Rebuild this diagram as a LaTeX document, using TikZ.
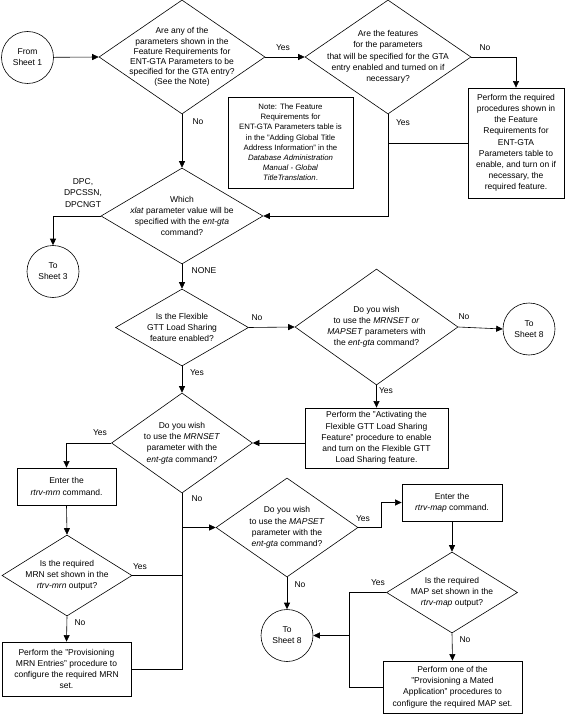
\documentclass[tikz,border=0pt]{standalone}
\usepackage{fontspec}
\setmainfont{Liberation Sans}
\usetikzlibrary{shapes.geometric,arrows.meta}

\begin{document}
\begin{tikzpicture}[x=1pt, y=-1pt, font=\fontsize{8.5}{11.2}\selectfont,
		line width=0.6pt,
		arr/.style={-{Triangle[length=6.5pt,width=6pt]}},
		decision/.style={draw, diamond, inner sep=0pt},
		qtext/.style={align=center, inner sep=0pt},
		procbox/.style={draw, line width=0.8pt, align=center, inner sep=0pt},
		sheet/.style={draw, circle, minimum size=52pt, inner sep=0pt, align=center}]
	\useasboundingbox (0,0) rectangle (565,714);

	% Top row
	\node[sheet] (from) at (27.5,57.5) {From\\Sheet 1};
	\node[decision, minimum width=166pt, minimum height=114pt] (q1) at (182,57) {};
	\node[qtext, font=\fontsize{8.5}{10.1}\selectfont] (q1txt) at (q1) {Are any of the\\parameters shown in the\\Feature Requirements for\\ENT-GTA Parameters to be\\specified for the GTA entry?\\(See the Note)};
	\node[decision, minimum width=166pt, minimum height=114pt] (q2) at (388,57) {};
	\node[qtext] (q2txt) at (q2) {Are the features\\for the parameters\\that will be specified for the GTA\\entry enabled and turned on if\\necessary?};
	\node[procbox, minimum width=96pt, minimum height=110pt] (feat) at (516,143) {Perform the required\\procedures shown in\\the Feature\\Requirements for\\ENT-GTA\\Parameters table to\\enable, and turn on if\\necessary, the\\required feature.};
	\node[procbox, minimum width=125pt, minimum height=91pt, font=\fontsize{7.8}{10.2}\selectfont] (note) at (290.5,142.5) {Note: The Feature\\Requirements for\\ENT-GTA Parameters table is\\in the "Adding Global Title\\Address Information" in the\\\textit{Database Administration}\\\textit{Manual - Global}\\\textit{TitleTranslation}.};

	% xlat question
	\node[decision, minimum width=162pt, minimum height=96pt] (q3) at (182,216) {};
	\node[qtext] (q3txt) at (q3) {Which\\\textit{xlat} parameter value will be\\specified with the \textit{ent-gta}\\command?};
	\node[sheet] (sh3) at (53,271.5) {To\\Sheet 3};

	% Flexible GTT Load Sharing
	\node[decision, minimum width=133pt, minimum height=77pt] (q4) at (182,327.5) {};
	\node[qtext] (q4txt) at (q4) {Is the Flexible\\GTT Load Sharing\\feature enabled?};
	\node[decision, minimum width=163pt, minimum height=116pt] (q5) at (376.5,327) {};
	\node[qtext] (q5txt) at (q5) {Do you wish\\to use the \textit{MRNSET or}\\\textit{MAPSET} parameters with\\the \textit{ent-gta} command?};
	\node[sheet] (sh8a) at (529,329) {To\\Sheet 8};
	\node[procbox, minimum width=143pt, minimum height=60pt] (flex) at (376.5,438) {Perform the "Activating the\\Flexible GTT Load Sharing\\Feature" procedure to enable\\and turn on the Flexible GTT\\Load Sharing feature.};

	% MRNSET branch
	\node[decision, minimum width=141pt, minimum height=100pt] (q6) at (182,443) {};
	\node[qtext] (q6txt) at (q6) {Do you wish\\to use the \textit{MRNSET}\\parameter with the\\\textit{ent-gta} command?};
	\node[procbox, minimum width=99pt, minimum height=37pt] (mrn) at (66.5,486.5) {Enter the\\\textit{rtrv-mrn} command.};
	\node[decision, minimum width=130pt, minimum height=81pt] (q7) at (67,575.5) {};
	\node[qtext] (q7txt) at (q7) {Is the required\\MRN set shown in the\\\textit{rtrv-mrn} output?};
	\node[procbox, minimum width=129pt, minimum height=54pt] (mrnprov) at (66.5,669) {Perform the "Provisioning\\MRN Entries" procedure to\\configure the required MRN\\set.};

	% MAPSET branch
	\node[decision, minimum width=142pt, minimum height=99pt] (q8) at (287,527.5) {};
	\node[qtext] (q8txt) at (q8) {Do you wish\\to use the \textit{MAPSET}\\parameter with the\\\textit{ent-gta} command?};
	\node[procbox, minimum width=100pt, minimum height=37pt] (map) at (452,502.5) {Enter the\\\textit{rtrv-map} command.};
	\node[decision, minimum width=131pt, minimum height=81pt] (q9) at (452,592.5) {};
	\node[qtext] (q9txt) at (q9) {Is the required\\MAP set shown in the\\\textit{rtrv-map} output?};
	\node[sheet] (sh8b) at (287,635.5) {To\\Sheet 8};
	\node[procbox, minimum width=139pt, minimum height=52pt] (mapprov) at (452.5,687) {Perform one of the\\"Provisioning a Mated\\Application" procedures to\\configure the required MAP set.};

	% Connectors
	\draw[arr] (from) -- (q1.west);
	\draw[arr] (q1.east) -- (q2.west);
	\draw[arr] (q2.east) -| (feat.north);
	\draw[arr] (q1.south) -- (q3.north);
	\draw[arr] (q2.south) |- (q3.east);
	\draw (feat.west) -- (feat.west -| q2.south);
	\draw[arr] (q3.west) -| (sh3.north);
	\draw[arr] (q3.south) -- (q4.north);
	\draw[arr] (q4.east) -- (q5.west);
	\draw[arr] (q5.east) -- (sh8a.west);
	\draw[arr] (q5.south) -- (flex.north);
	\draw[arr] (q6.east -| flex.west) -- (q6.east);
	\draw[arr] (q4.south) -- (q6.north);
	\draw[arr] (q6.west) -| (mrn.north);
	\draw[arr] (mrn.south) -- (q7.north);
	\draw[arr] (q7.south) -- (mrnprov.north);
	\draw (q6.south) -- (q6.south |- mrnprov.east) -- (mrnprov.east);
	\draw (q7.east) -- (q7.east -| q6.south);
	\draw[arr] (q6.south |- q8.west) -- (q8.west);
	\draw[arr] (q8.east) -- ++(23,0) |- (map.west);
	\draw[arr] (map.south) -- (q9.north);
	\draw[arr] (q9.south) -- (mapprov.north);
	\draw[arr] (q8.south) -- (sh8b.north);
	\coordinate (mapjoin) at (349,0);
	\draw (q9.west) -- (q9.west -| mapjoin) -- (mapprov.west -| mapjoin) -- (mapprov.west);
	\draw[arr] (sh8b.east -| mapjoin) -- (sh8b.east);

	% Labels
	\node at (283,48) {Yes};
	\node at (485,48) {No};
	\node at (198,122) {No};
	\node at (403,123) {Yes};
	\node[align=center] at (83,193) {DPC,\\DPCSSN,\\DPCNGT};
	\node[anchor=west] at (188,271) {NONE};
	\node at (257,318) {No};
	\node at (464,317) {No};
	\node at (386,391) {Yes};
	\node at (197,373) {Yes};
	\node at (100,433) {Yes};
	\node at (197,499) {No};
	\node at (140,567) {Yes};
	\node at (80,623) {No};
	\node at (363,519) {Yes};
	\node at (300,585) {No};
	\node at (378,583) {Yes};
	\node at (465,640) {No};
\end{tikzpicture}
\end{document}
